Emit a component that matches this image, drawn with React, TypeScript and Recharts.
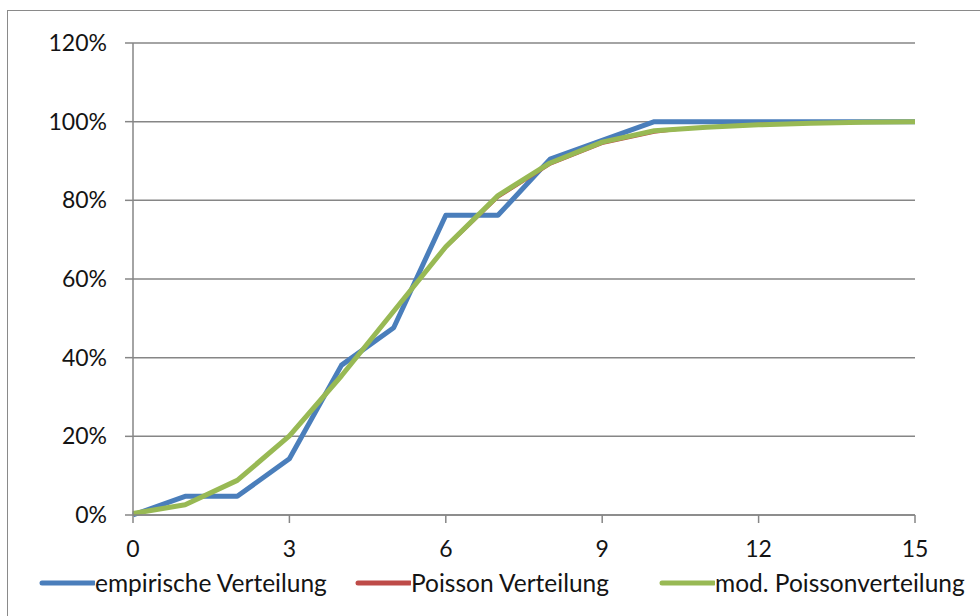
import React from "react";
import { LineChart, Line, XAxis, YAxis, CartesianGrid } from "recharts";

const xValues = [0, 1, 2, 3, 4, 5, 6, 7, 8, 9, 10, 11, 12, 13, 14, 15];
const empirisch = [0, 4.76, 4.76, 14.29, 38.1, 47.62, 76.19, 76.19, 90.48, 95.24, 100, 100, 100, 100, 100, 100];
const poisson = [0.3, 2.4, 8.6, 20.0, 35.6, 52.0, 67.8, 80.6, 89.0, 94.3, 97.2, 98.8, 99.5, 99.8, 99.95, 100];
const modPoisson = [0.4, 2.6, 8.8, 20.1, 35.4, 51.8, 68.2, 81.2, 89.5, 94.8, 97.7, 98.6, 99.2, 99.6, 99.85, 100];
const xTicks = [0, 3, 6, 9, 12, 15];
const yTicks = [0, 20, 40, 60, 80, 100, 120];
const seriesNames = ["empirische Verteilung", "Poisson Verteilung", "mod. Poissonverteilung"];

const colors = ["#4A7EBB", "#BE4B48", "#98B954"];
const widths = [5, 2, 5];
const keys = ["emp", "poi", "mod"];
const legendLeft = [39, 355, 659];

const data = xValues.map((x, i) => ({
  x,
  emp: empirisch[i],
  poi: poisson[i],
  mod: modPoisson[i],
}));

const FONT = "Lato, 'Open Sans', sans-serif";
const TEXT = "#141414";
const GRID = "#868686";

export default function App() {
  return (
    <div
      style={{
        position: "fixed",
        left: 0,
        top: 0,
        width: 980,
        height: 616,
        overflow: "hidden",
        background: "#fff",
        fontFamily: FONT,
      }}
    >
      <div
        style={{
          position: "absolute",
          left: 7,
          top: 10,
          width: 1100,
          height: 800,
          border: "1.5px solid #8a8a8a",
          boxSizing: "border-box",
        }}
      />
      <div style={{ position: "absolute", left: 0, top: 0 }}>
        <LineChart
          width={980}
          height={616}
          data={data}
          margin={{ top: 43, right: 65, left: 0, bottom: 0 }}
        >
          <CartesianGrid vertical={false} stroke={GRID} strokeWidth={1.5} />
          <XAxis
            dataKey="x"
            type="number"
            domain={[0, 15]}
            ticks={xTicks}
            interval={0}
            height={101}
            tickSize={8}
            tickMargin={18}
            axisLine={{ stroke: GRID, strokeWidth: 1.5 }}
            tickLine={{ stroke: GRID, strokeWidth: 1.5 }}
            tick={{ fill: TEXT, fontSize: 23, fontFamily: FONT }}
          />
          <YAxis
            type="number"
            domain={[0, 120]}
            ticks={yTicks}
            interval={0}
            width={133}
            tickSize={8}
            tickMargin={18}
            tickFormatter={(v: number) => `${v}%`}
            axisLine={{ stroke: GRID, strokeWidth: 1.5 }}
            tickLine={{ stroke: GRID, strokeWidth: 1.5 }}
            tick={{ fill: TEXT, fontSize: 23, fontFamily: FONT }}
          />
          {keys.map((k, i) => (
            <Line
              key={k}
              dataKey={k}
              name={seriesNames[i]}
              type="linear"
              stroke={colors[i]}
              strokeWidth={widths[i]}
              dot={false}
              activeDot={false}
              isAnimationActive={false}
              strokeLinejoin="round"
            />
          ))}
        </LineChart>
      </div>
      {seriesNames.map((name, i) => (
        <div
          key={name}
          style={{
            position: "absolute",
            left: legendLeft[i],
            top: 568,
            height: 30,
            display: "flex",
            alignItems: "center",
            whiteSpace: "nowrap",
          }}
        >
          <svg width={56} height={10} style={{ display: "block" }}>
            <line
              x1={3}
              y1={5}
              x2={55}
              y2={5}
              stroke={colors[i]}
              strokeWidth={5}
              strokeLinecap="round"
            />
          </svg>
          <span style={{ fontSize: 24.5, color: TEXT, fontFamily: FONT, lineHeight: "30px" }}>{name}</span>
        </div>
      ))}
    </div>
  );
}
